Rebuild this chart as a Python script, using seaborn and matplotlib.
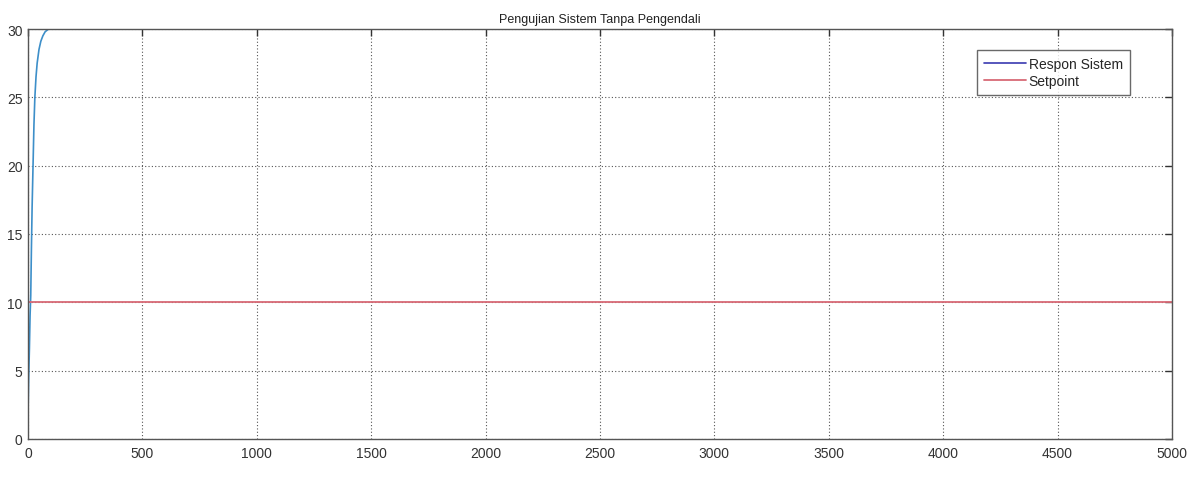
import matplotlib
matplotlib.use("Agg")
import matplotlib.pyplot as plt
import seaborn as sns
import pandas as pd

sns.set_theme(style="white")
plt.rcParams['font.family'] = ['Liberation Sans', 'DejaVu Sans']

# data
time_resp = [0, 3, 6, 9, 12, 15, 18, 22, 26, 30, 35, 40, 48, 56, 65, 75, 90, 120, 200, 400, 5000]
resp = [1.8, 4.5, 6.5, 9.0, 10.5, 14.0, 17.0, 20.0, 23.0, 25.0, 26.5, 27.5, 28.5, 29.1, 29.5, 29.8, 30.0, 30.4, 31.0, 31.5, 32.0]
time_sp = [0, 5000]
setpoint = [10, 10]
title = "Pengujian Sistem Tanpa Pengendali"
xticks = [0, 500, 1000, 1500, 2000, 2500, 3000, 3500, 4000, 4500, 5000]
yticks = [0, 5, 10, 15, 20, 25, 30]

df_r = pd.DataFrame({"t": time_resp, "y": resp})
df_s = pd.DataFrame({"t": time_sp, "y": setpoint})

fig = plt.figure(figsize=(11.91, 4.85), dpi=100)
ax = fig.add_axes([28/1191, 1-440/485, 1144/1191, 410/485])

sns.lineplot(data=df_r, x="t", y="y", ax=ax, color="#3d8fc9", lw=1.2, label="Respon Sistem")
sns.lineplot(data=df_s, x="t", y="y", ax=ax, color="#d86a76", lw=1.3, label="Setpoint")

ax.set_xlim(0, 5000)
ax.set_ylim(0, 30)
ax.set_xticks(xticks)
ax.set_yticks(yticks)
ax.set_xlabel("")
ax.set_ylabel("")
ax.set_title(title, fontsize=9, color="#222222", pad=5)
ax.grid(True, linestyle=(0, (1, 2)), color="#555555", lw=0.8)
ax.tick_params(axis="both", direction="in", length=5, width=1, labelsize=10,
               colors="#333333", top=True, right=True)
ax.tick_params(axis="x", pad=5)
ax.tick_params(axis="y", pad=4)
for s in ax.spines.values():
    s.set_color("#555555")
    s.set_linewidth(1)

leg = ax.legend(loc="upper right", bbox_to_anchor=(0.969, 0.966), fontsize=10,
                frameon=True, fancybox=False, handlelength=3.0, borderpad=0.5,
                handletextpad=0.2, labelspacing=0.25)
leg.get_frame().set_edgecolor("#444444")
leg.get_frame().set_linewidth(1)
leg.get_lines()[0].set_color("#3a3ab0")

fig.savefig("out.png", dpi=100, facecolor="white")
